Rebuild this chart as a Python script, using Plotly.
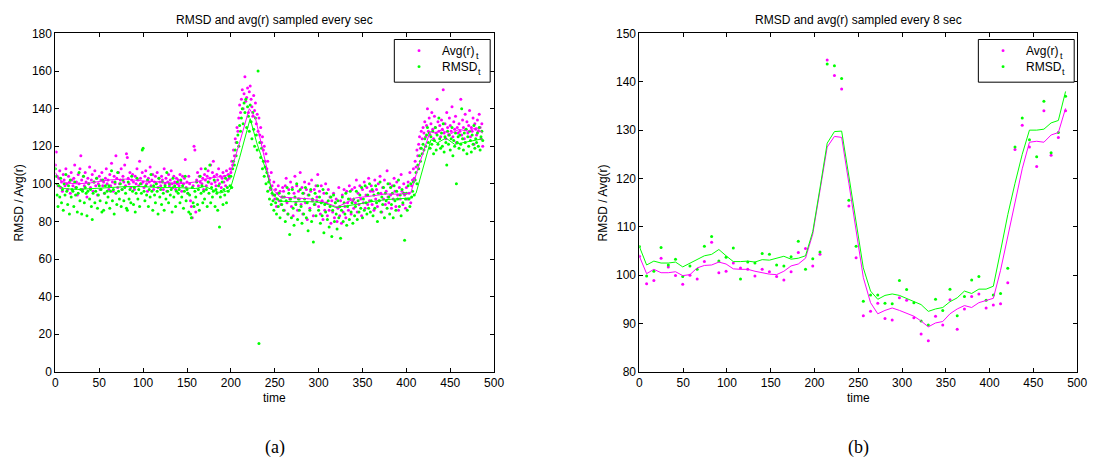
import plotly.graph_objects as go

# ---------------- sampled every second (panel a) ----------------
AVG_1S = [
    110, 117, 104, 99, 103, 107, 98, 101, 96, 105, 102, 99, 108, 100, 97, 104, 101, 95, 106, 102,
    99, 103, 110, 98, 101, 94, 105, 100, 108, 115, 102, 97, 104, 99, 106, 101, 93, 103, 100, 109,
    98, 102, 105, 96, 101, 107, 99, 103, 94, 100, 104, 97, 102, 106, 99, 101, 95, 103, 108, 100,
    102, 97, 105, 99, 111, 101, 96, 104, 100, 115, 103, 98, 106, 100, 102, 108, 97, 104, 101, 110,
    99, 116, 114, 103, 100, 106, 98, 102, 105, 101, 97, 104, 100, 108, 102, 99, 112, 103, 100, 106,
    101, 98, 104, 107, 100, 96, 103, 101, 109, 99, 102, 105, 97, 101, 104, 100, 106, 98, 103, 101,
    99, 104, 102, 97, 108, 100, 103, 96, 101, 105, 99, 102, 107, 100, 98, 104, 101, 97, 103, 100,
    102, 99, 105, 101, 96, 104, 100, 103, 113, 98, 101, 95, 104, 100, 91, 88, 82, 99, 120, 118,
    85, 102, 106, 99, 104, 101, 108, 100, 103, 97, 105, 102, 99, 104, 107, 101, 103, 110, 100, 106,
    112, 104, 101, 99, 105, 102, 108, 100, 104, 98, 103, 106, 101, 104, 99, 107, 102, 105, 103, 108,
    106, 112, 110, 118, 115, 124, 122, 130, 128, 135, 142, 138, 145, 150, 140, 148, 157, 144, 146, 151,
    138, 149, 152, 145, 141, 136, 147, 139, 143, 132, 137, 128, 135, 126, 130, 122, 125, 118, 120, 112,
    116, 108, 112, 104, 102, 97, 106, 99, 94, 101, 92, 97, 88, 95, 99, 91, 96, 89, 93, 98,
    96, 86, 99, 103, 90, 84, 97, 92, 101, 88, 98, 83, 95, 104, 90, 99, 86, 96, 92, 106,
    89, 98, 84, 95, 101, 90, 97, 81, 94, 100, 87, 96, 102, 91, 83, 97, 89, 99, 93, 105,
    88, 96, 84, 99, 91, 81, 95, 86, 100, 90, 83, 97, 86, 93, 79, 91, 85, 95, 82, 90,
    92, 80, 87, 98, 83, 91, 79, 94, 85, 97, 88, 82, 96, 90, 86, 99, 92, 84, 97, 91,
    87, 98, 90, 102, 85, 95, 89, 99, 92, 83, 97, 90, 101, 87, 94, 98, 89, 103, 91, 96,
    99, 89, 96, 86, 102, 92, 97, 88, 100, 91, 104, 95, 85, 98, 92, 102, 89, 96, 107, 93,
    90, 100, 94, 87, 99, 92, 103, 96, 88, 101, 94, 86, 98, 92, 105, 96, 89, 100, 94, 87,
    98, 92, 101, 95, 106, 90, 99, 102, 108, 103, 112, 109, 118, 115, 121, 125, 119, 128, 124, 130,
    127, 133, 125, 131, 140, 128, 135, 126, 132, 138, 129, 124, 136, 130, 127, 145, 133, 128, 131, 125,
    134, 129, 150, 127, 132, 124, 138, 130, 126, 135, 131, 128, 141, 125, 133, 129, 136, 122, 130, 127,
    132, 128, 145, 126, 134, 130, 124, 137, 129, 133, 127, 131, 139, 125, 130, 128, 135, 121, 132, 129,
    126, 134, 128, 137, 130, 124, 132, 120,
]

RMSD_1S = [
    108, 104, 94, 88, 99, 93, 103, 90, 97, 86, 100, 94, 105, 96, 89, 99, 84, 102, 93, 97,
    96, 88, 101, 94, 98, 85, 95, 106, 91, 97, 84, 96, 104, 90, 98, 95, 83, 96, 100, 92,
    97, 88, 81, 95, 101, 90, 96, 103, 87, 94, 99, 91, 97, 85, 102, 86, 95, 99, 90, 96,
    93, 99, 87, 96, 107, 91, 97, 84, 101, 95, 89, 106, 96, 92, 100, 88, 97, 102, 91, 98,
    95, 87, 86, 101, 92, 97, 90, 104, 96, 89, 98, 85, 95, 103, 92, 97, 88, 100, 95, 118,
    119, 96, 91, 99, 94, 102, 88, 97, 93, 105, 96, 86, 99, 94, 90, 100, 96, 84, 103, 93,
    97, 89, 101, 95, 86, 99, 92, 106, 96, 90, 100, 94, 97, 85, 103, 93, 99, 88, 96, 101,
    95, 97, 90, 102, 93, 99, 87, 96, 104, 91, 97, 95, 85, 94, 84, 82, 98, 90, 88, 96,
    93, 101, 89, 97, 86, 104, 95, 99, 90, 96, 92, 108, 97, 88, 101, 95, 110, 90, 98, 93,
    96, 102, 88, 97, 95, 86, 99, 77, 93, 96, 101, 89, 97, 94, 103, 90, 98, 96, 104, 99,
    104, 98, 108, 112, 110, 118, 115, 122, 126, 120, 131, 128, 135, 140, 132, 143, 138, 145, 130, 141,
    136, 128, 142, 133, 124, 138, 129, 120, 135, 126, 118, 160, 15, 122, 114, 119, 108, 112, 104, 109,
    100, 106, 96, 101, 92, 98, 89, 95, 91, 86, 94, 90, 84, 92, 88, 95, 82, 91, 89, 93,
    86, 93, 80, 91, 98, 84, 95, 73, 92, 82, 97, 87, 78, 93, 89, 100, 81, 92, 86, 97,
    88, 79, 95, 84, 92, 98, 82, 90, 75, 94, 86, 97, 80, 92, 69, 89, 95, 83, 91, 99,
    86, 93, 79, 90, 83, 97, 74, 89, 85, 95, 81, 91, 77, 88, 93, 72, 86, 94, 80, 90,
    84, 76, 91, 82, 88, 71, 86, 93, 80, 90, 84, 95, 78, 88, 92, 81, 96, 85, 90, 79,
    92, 83, 88, 96, 81, 91, 85, 94, 87, 98, 82, 92, 86, 99, 90, 84, 94, 87, 100, 85,
    91, 97, 83, 94, 87, 99, 90, 80, 95, 91, 101, 85, 93, 89, 98, 82, 95, 91, 87, 100,
    93, 84, 98, 89, 95, 82, 99, 91, 86, 96, 92, 102, 88, 94, 83, 97, 90, 95, 70, 92,
    95, 86, 99, 92, 88, 100, 93, 96, 101, 94, 102, 106, 100, 110, 108, 115, 112, 119, 116, 121,
    118, 124, 120, 126, 130, 122, 127, 119, 125, 121, 128, 116, 123, 130, 118, 126, 121, 135, 124, 119,
    127, 120, 132, 117, 125, 122, 110, 128, 121, 126, 118, 124, 130, 115, 123, 120, 127, 100, 122, 125,
    119, 126, 121, 140, 124, 118, 127, 122, 129, 116, 125, 120, 128, 123, 117, 126, 121, 131, 119, 124,
    122, 127, 120, 130, 118, 125, 128, 123,
]
T_1S = list(range(len(AVG_1S)))

# smoothed curves (panel a)
AVG_LINE_T = [0, 5, 12, 25, 40, 60, 80, 100, 120, 140, 160, 175, 190, 199, 210, 221, 228, 236,
              246, 256, 270, 290, 305, 321, 332, 342, 360, 376, 390, 405, 413, 420, 427, 433,
              440, 450, 460, 470, 480, 487]
AVG_LINE = [106, 102, 100.5, 100, 100.5, 102, 102.5, 101.5, 101, 100, 101, 103, 104, 105, 122,
            140, 135, 118, 98, 93, 92.5, 92, 90.5, 87.7, 90, 92.5, 93.5, 94.6, 94.5, 95.1, 108,
            118, 127.8, 127, 128.7, 126.5, 129, 128, 130, 127]
RMSD_LINE_T = [0, 10, 25, 40, 60, 80, 100, 120, 140, 160, 170, 188, 199, 210, 222, 229.5, 240.7,
               248, 256, 270, 290, 305, 319.5, 330, 342, 360, 376, 390, 405.5, 411, 420, 428,
               435.5, 445, 455, 465, 475, 487]
RMSD_LINE = [100, 97.5, 97, 97.5, 98, 98.5, 98.5, 98, 98, 97.5, 98.6, 95.1, 96.8, 114, 134.7,
             121.8, 106.3, 94.3, 90.8, 90.5, 90.5, 90, 87.4, 88, 89, 90.5, 91.6, 92, 92.5, 95,
             110, 123.5, 121.8, 124.4, 121, 122, 123, 124]

# ---------------- sampled every 8 seconds (panel b) ----------------
T_8S = [0, 8.25, 16.5, 24.75, 33, 41.25, 49.5, 57.75, 66, 74.25, 82.5, 90.75, 99, 107.25,
        115.5, 123.75, 132, 140.25, 148.5, 156.75, 165, 173.25, 181.5, 189.75, 198, 206.25,
        214.5, 222.75, 231, 239.25, 247.5, 255.75, 264, 272.25, 280.5, 288.75, 297, 305.25,
        313.5, 321.75, 330, 338.25, 346.5, 354.75, 363, 371.25, 379.5, 387.75, 396, 404.25,
        412.5, 420.75, 429, 437.25, 445.5, 453.75, 462, 470.25, 478.5, 486.75]
AVG_8S = [103.9, 98.2, 98.9, 103.5, 101.7, 99.9, 98.1, 100.0, 99.2, 102.8, 106.8, 100.5, 100.8,
          102.5, 101.5, 101.2, 99.8, 101.2, 100.7, 99.7, 99.0, 100.7, 104.7, 105.5, 101.9, 104.3,
          144.5, 141.3, 138.5, 114.3, 103.6, 91.6, 92.5, 94.2, 91.0, 90.7, 95.3, 94.8, 91.2, 87.8,
          86.4, 91.5, 89.7, 94.9, 88.8, 93.0, 95.6, 96.1, 93.2, 93.8, 94.1, 98.4, 126.0, 131.0,
          126.5, 122.5, 134.0, 124.8, 128.5, 134.0]
RMSD_8S = [105.9, 99.8, 100.8, 105.7, 102.1, 103.3, 99.7, 101.9, 101.2, 106.0, 108.0, 102.9,
           103.7, 105.6, 99.2, 102.7, 102.5, 104.5, 104.3, 102.1, 101.9, 103.8, 107.0, 101.2,
           103.4, 104.8, 143.7, 143.3, 140.7, 115.5, 106.0, 94.6, 95.9, 95.9, 94.2, 94.1, 98.9,
           97.0, 94.3, 90.5, 89.7, 95.0, 92.7, 97.1, 91.6, 95.6, 99.0, 99.7, 94.8, 95.9, 96.2,
           101.4, 126.5, 132.5, 128.0, 124.5, 136.0, 125.3, 129.5, 137.0]
AVG_8S_LINE = [103.9, 100.3, 101.2, 100.5, 100.5, 100.7, 99.9, 100.1, 101.5, 102.0, 102.1,
               102.7, 102.3, 101.3, 101.2, 101.2, 100.8, 100.5, 100.2, 100.1, 100.8, 101.9,
               102.3, 103.5, 108.5, 117.5, 126.5, 128.7, 128.5, 119.0, 109.0, 99.5, 94.3, 92.0,
               92.7, 93.2, 92.7, 92.1, 91.5, 90.5, 89.3, 90.1, 90.4, 92.0, 93.0, 93.7, 93.3,
               94.3, 94.7, 95.2, 101.0, 108.0, 115.5, 122.0, 127.5, 127.7, 127.5, 129.0, 129.5,
               134.5]
RMSD_8S_LINE = [105.9, 102.1, 102.9, 102.5, 102.5, 102.7, 101.7, 102.5, 103.3, 104.0, 104.3,
                105.3, 104.0, 102.8, 102.8, 102.9, 102.7, 103.2, 103.1, 103.5, 103.9, 103.3,
                103.5, 104.0, 109.0, 118.0, 127.3, 129.7, 129.8, 120.5, 110.5, 101.5, 96.7,
                95.0, 95.8, 96.1, 95.8, 95.2, 94.5, 93.9, 92.5, 93.0, 93.3, 94.5, 95.3, 96.7,
                96.2, 97.1, 97.1, 97.7, 105.0, 112.5, 119.0, 125.0, 130.0, 130.0, 130.2, 131.5,
                132.0, 138.0]

# legend labels: base text, subscript, base text width in px at 12 px Liberation Sans
LEGEND_BASE = ["Avg(r)", "RMSD"]
LEGEND_SUB = ["t", "t"]
LEGEND_BASE_W = [34.2, 36.3]

MAGENTA = "#FF00FF"
GREEN = "#00FF00"
FONT = "Liberation Sans, Arial, Helvetica, sans-serif"
W, H = 1101, 469


def px(x):
    return x / W


def py(y):
    return 1 - y / H


fig = go.Figure()


def add_panel(xa, ya, t_pts, avg_pts, rmsd_pts, t_avg_line, avg_line, t_rmsd_line, rmsd_line):
    fig.add_trace(go.Scatter(x=t_pts, y=avg_pts, mode="markers", name="Avg(r)t",
                             marker=dict(color=MAGENTA, size=3), showlegend=False,
                             xaxis=xa, yaxis=ya))
    fig.add_trace(go.Scatter(x=t_pts, y=rmsd_pts, mode="markers", name="RMSDt",
                             marker=dict(color=GREEN, size=3), showlegend=False,
                             xaxis=xa, yaxis=ya))
    fig.add_trace(go.Scatter(x=t_avg_line, y=avg_line, mode="lines",
                             line=dict(color=MAGENTA, width=1), showlegend=False,
                             xaxis=xa, yaxis=ya))
    fig.add_trace(go.Scatter(x=t_rmsd_line, y=rmsd_line, mode="lines",
                             line=dict(color=GREEN, width=1), showlegend=False,
                             xaxis=xa, yaxis=ya))


add_panel("x", "y", T_1S, AVG_1S, RMSD_1S, AVG_LINE_T, AVG_LINE, RMSD_LINE_T, RMSD_LINE)
add_panel("x2", "y2", T_8S, AVG_8S, RMSD_8S, T_8S, AVG_8S_LINE, T_8S, RMSD_8S_LINE)

axis_common = dict(showline=True, linecolor="black", linewidth=1, mirror="ticks",
                   ticks="inside", ticklen=4, tickcolor="black", tickwidth=1,
                   showgrid=False, zeroline=False, tickfont=dict(family=FONT, size=12, color="black"))
text_font = dict(family=FONT, size=12, color="black")

left_dom = [px(53), px(497)]
right_dom = [px(644), px(1087)]
y_dom = [py(376), py(27.3)]

fig.update_layout(
    width=W, height=H, autosize=False,
    margin=dict(l=0, r=0, t=0, b=0),
    paper_bgcolor="white", plot_bgcolor="white",
    font=text_font,
    showlegend=False,
    xaxis=dict(domain=left_dom, range=[0, 500], tickvals=list(range(0, 501, 50)), anchor="y", **axis_common),
    yaxis=dict(domain=y_dom, range=[0, 180], tickvals=list(range(0, 181, 20)), anchor="x", **axis_common),
    xaxis2=dict(domain=right_dom, range=[0, 500], tickvals=list(range(0, 501, 50)), anchor="y2", **axis_common),
    yaxis2=dict(domain=y_dom, range=[80, 150], tickvals=list(range(80, 151, 10)), anchor="x2", **axis_common),
)

labels = [
    dict(text="RMSD and avg(r) sampled every sec", x=px(275), y=py(13)),
    dict(text="RMSD and avg(r) sampled every 8 sec", x=px(865.5), y=py(13)),
    dict(text="time", x=px(275), y=py(403.5)),
    dict(text="time", x=px(865.5), y=py(403.5)),
    dict(text="RMSD / Avg(r)", x=px(16), y=py(201.7), textangle=-90),
    dict(text="RMSD / Avg(r)", x=px(607), y=py(201.7), textangle=-90),
]
for a in labels:
    fig.add_annotation(xref="paper", yref="paper", showarrow=False, xanchor="center",
                       yanchor="middle", font=text_font, **a)

for label, cx in (("(a)", 275), ("(b)", 865.5)):
    fig.add_annotation(text=label, xref="paper", yref="paper", x=px(cx), y=py(454),
                       showarrow=False, xanchor="center", yanchor="middle",
                       font=dict(family="Liberation Serif, DejaVu Serif, serif", size=18, color="black"))

# boxed legends in the upper right corner of each panel
ROW_Y = [45, 61.5]
for box_left in (396, 987):
    fig.add_shape(type="rect", xref="paper", yref="paper",
                  x0=px(box_left), x1=px(box_left + 97), y0=py(33.5), y1=py(77.5),
                  line=dict(color="black", width=1), fillcolor="white", layer="above")
    for base, sub, base_w, color, ry in zip(LEGEND_BASE, LEGEND_SUB, LEGEND_BASE_W,
                                            (MAGENTA, GREEN), ROW_Y):
        cx = box_left + 25
        fig.add_shape(type="circle", xref="paper", yref="paper",
                      x0=px(cx - 1.5), x1=px(cx + 1.5), y0=py(ry + 1.5), y1=py(ry - 1.5),
                      line=dict(color=color, width=0), fillcolor=color, layer="above")
        tx = box_left + 46
        fig.add_annotation(text=base, xref="paper", yref="paper", x=px(tx), y=py(ry),
                           showarrow=False, xanchor="left", yanchor="middle", font=text_font)
        fig.add_annotation(text=sub, xref="paper", yref="paper", x=px(tx + base_w), y=py(ry + 5),
                           showarrow=False, xanchor="left", yanchor="middle",
                           font=dict(family=FONT, size=9, color="black"))

fig.write_html("out.html")
